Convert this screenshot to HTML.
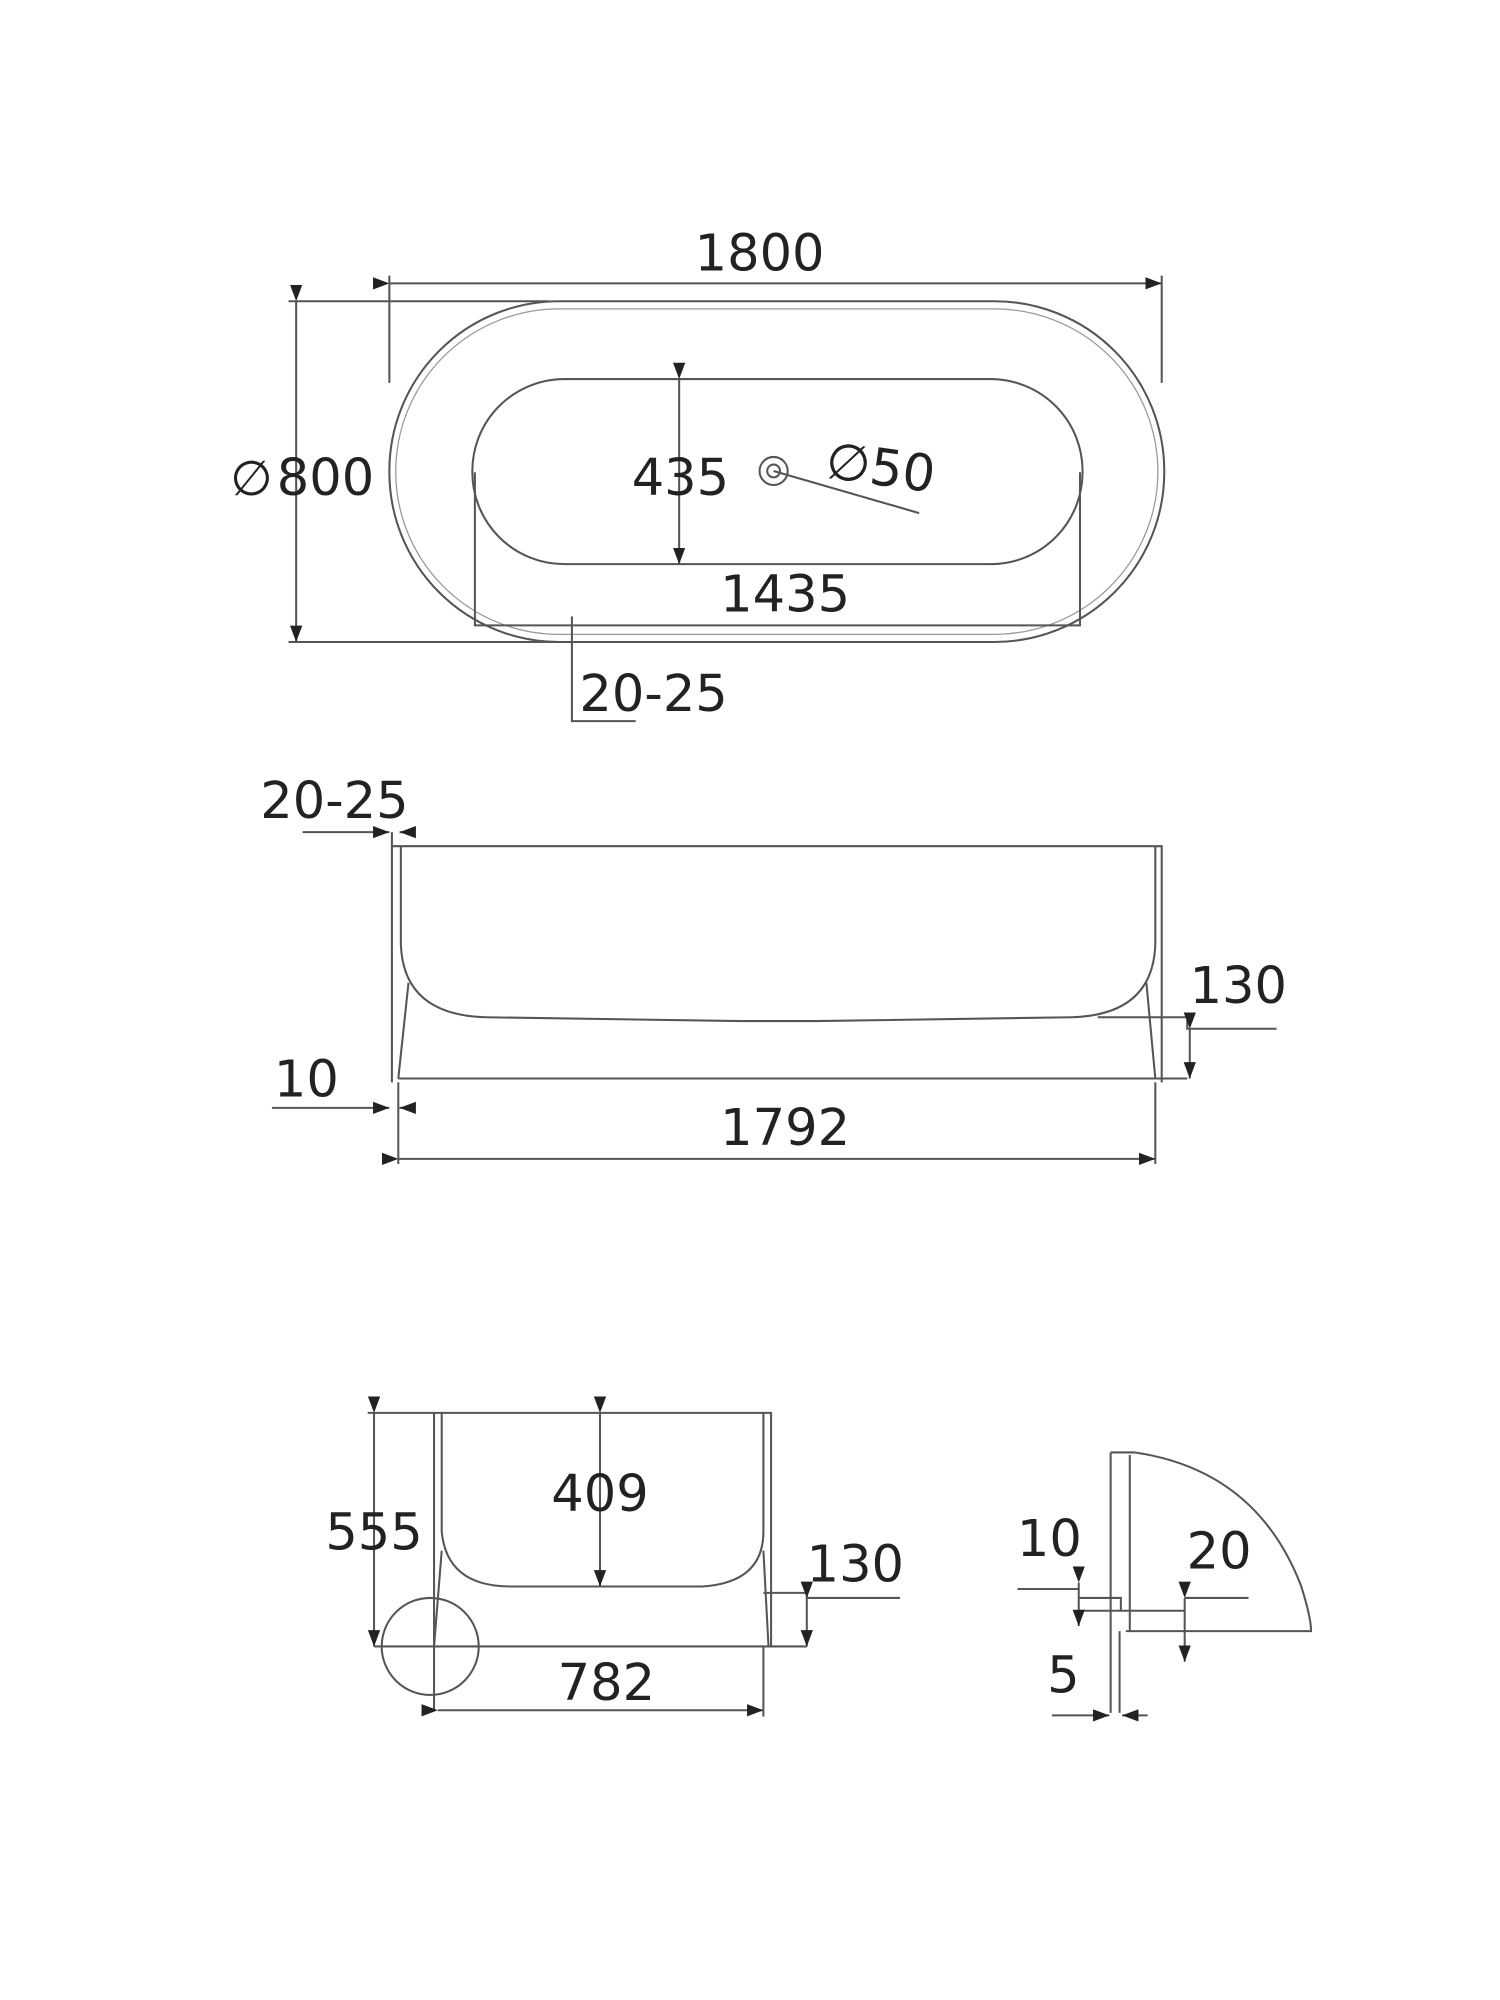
<!DOCTYPE html>
<html><head><style>
html,body{margin:0;padding:0;background:#fff;}
svg{display:block;}
text{font-family:"DejaVu Sans","Liberation Sans",sans-serif;fill:#222;}
</style></head><body>
<svg width="1500" height="2000" viewBox="0 0 1175 1567" preserveAspectRatio="none" xmlns="http://www.w3.org/2000/svg">
<rect width="1175" height="1567" fill="#fff"/>
<defs><marker id="a" markerWidth="8" markerHeight="6" refX="8" refY="3" orient="auto"><path d="M0,0 L8,3 L0,6z" fill="#222"/></marker></defs>
<g fill="none" stroke="#555" stroke-width="1.6">
<rect x="305" y="236" width="607" height="267" rx="133" ry="133"/>
<rect x="310" y="242" width="597" height="255" rx="128" ry="128" stroke="#999" stroke-width="1"/>
<rect x="370" y="297" width="478" height="145" rx="72" ry="72"/>
<path d="M372 370 V490 H846 V370"/>
<line x1="305" y1="222" x2="910" y2="222" marker-start="url(#a)" marker-end="url(#a)"/>
<line x1="305" y1="216" x2="305" y2="300"/><line x1="910" y1="216" x2="910" y2="300"/>
<line x1="232" y1="236" x2="232" y2="503" marker-start="url(#a)" marker-end="url(#a)"/>
<line x1="226" y1="236" x2="430" y2="236"/><line x1="226" y1="503" x2="440" y2="503"/>
<line x1="532" y1="297" x2="532" y2="442" marker-start="url(#a)" marker-end="url(#a)"/>
<circle cx="606" cy="369" r="11"/><circle cx="606" cy="369" r="5"/>
<line x1="606" y1="369" x2="720" y2="402"/>
<path d="M448 483 V565 H498"/>
<path d="M307 652 V848"/>
<path d="M307 663 H910 V848"/>
<path d="M314 663 V740 Q316 795 380 797 L580 800 L640 800 L840 797 Q903 795 905 740 V663"/>
<path d="M320 770 L312 845 M898 770 L905 845"/>
<line x1="312" y1="845" x2="930" y2="845"/>
<line x1="312" y1="908" x2="905" y2="908" marker-start="url(#a)" marker-end="url(#a)"/>
<line x1="312" y1="848" x2="312" y2="912"/><line x1="905" y1="848" x2="905" y2="912"/>
<path d="M860 797 H930 V806 H1000"/>
<line x1="932" y1="806" x2="932" y2="845" marker-start="url(#a)" marker-end="url(#a)"/>
<line x1="213" y1="868" x2="305" y2="868" marker-end="url(#a)"/>
<line x1="325" y1="868" x2="313" y2="868" marker-end="url(#a)"/>
<line x1="237" y1="652" x2="305" y2="652" marker-end="url(#a)"/>
<line x1="325" y1="652" x2="313" y2="652" marker-end="url(#a)"/>
<path d="M340 1107 H604 V1290"/>
<path d="M340 1107 V1340"/>
<path d="M346 1107 V1200 Q350 1243 400 1243 H550 Q598 1240 598 1200 V1107"/>
<path d="M346 1215 L340 1290 M598 1215 L602 1290"/>
<line x1="293" y1="1107" x2="293" y2="1290" marker-start="url(#a)" marker-end="url(#a)"/>
<line x1="288" y1="1107" x2="340" y2="1107"/>
<line x1="293" y1="1290" x2="632" y2="1290"/>
<line x1="470" y1="1107" x2="470" y2="1243" marker-start="url(#a)" marker-end="url(#a)"/>
<path d="M598 1248 H632 V1252 H705"/>
<line x1="632" y1="1252" x2="632" y2="1290" marker-start="url(#a)" marker-end="url(#a)"/>
<line x1="343" y1="1340" x2="598" y2="1340" marker-start="url(#a)" marker-end="url(#a)"/>
<line x1="598" y1="1290" x2="598" y2="1345"/>
<circle cx="337" cy="1290" r="38"/>
<g transform="translate(9,12)">
<path d="M861 1126 H880 Q975 1140 1010 1230 Q1018 1255 1018 1266 H873"/>
<path d="M861 1126 V1330 M876 1128 V1266 M868 1266 V1330"/>
<path d="M836 1240 H869 V1250 M836 1250 H919"/>
<path d="M788 1233 H836 M919 1240 H969"/>
<line x1="836" y1="1228" x2="836" y2="1262" marker-start="url(#a)" marker-end="url(#a)"/>
<line x1="919" y1="1240" x2="919" y2="1290" marker-start="url(#a)" marker-end="url(#a)"/>
<line x1="815" y1="1332" x2="860" y2="1332" marker-end="url(#a)"/>
<line x1="890" y1="1332" x2="870" y2="1332" marker-end="url(#a)"/>
</g>
</g>
<g font-size="40" text-anchor="middle">
<text x="595" y="212">1800</text>
<text x="255" y="388">800</text>
<text x="197" y="388" font-size="38">∅</text>
<text x="533" y="388">435</text>
<text x="690" y="380" transform="rotate(8 690 365)">∅50</text>
<text x="615" y="479">1435</text>
<text x="512" y="557">20-25</text>
<text x="262" y="641">20-25</text>
<text x="970" y="786">130</text>
<text x="240" y="859">10</text>
<text x="615" y="897">1792</text>
<text x="293" y="1214">555</text>
<text x="470" y="1184">409</text>
<text x="670" y="1239">130</text>
<text x="475" y="1332">782</text>
<text x="822" y="1219">10</text>
<text x="955" y="1229">20</text>
<text x="833" y="1326">5</text>
</g>
</svg>
</body></html>
